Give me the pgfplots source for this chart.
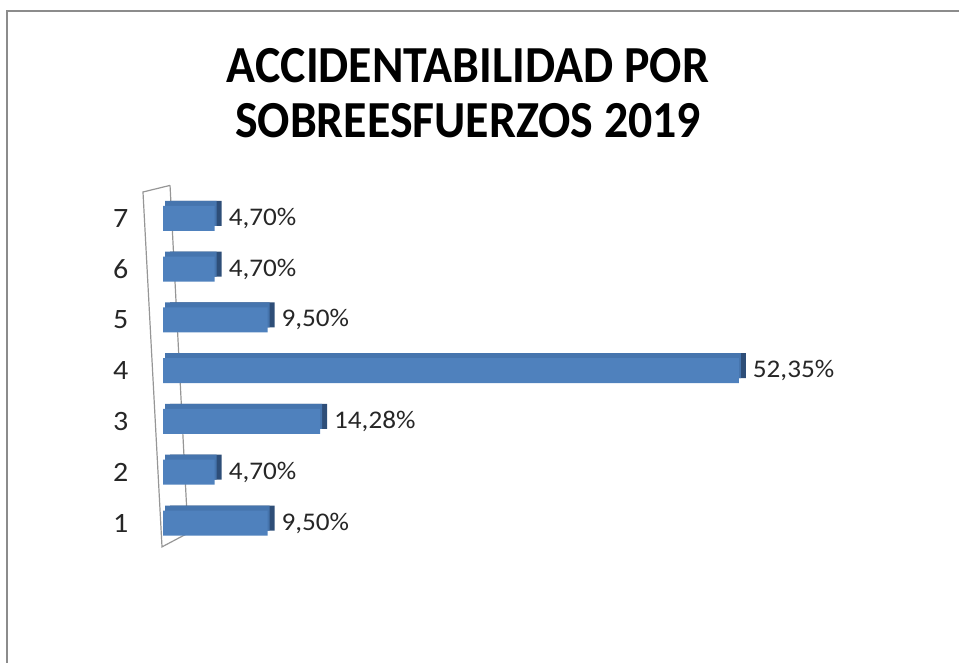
\documentclass[border=0pt]{standalone}
\usepackage{fontspec}
\setmainfont{Carlito}
\newfontfamily\titlefont{Carlito}[FakeStretch=0.92]
\newfontfamily\labelfont{Carlito}[FakeStretch=1.07]
\usepackage{pgfplots}
\pgfplotsset{compat=1.18}
\definecolor{barfront}{RGB}{79,129,189}
\definecolor{bartop}{RGB}{70,117,174}
\definecolor{barside}{RGB}{46,78,120}
\definecolor{wallgray}{RGB}{150,150,150}
\definecolor{framegray}{RGB}{140,140,140}
\begin{document}
\begin{tikzpicture}
\path[use as bounding box] (0,0) rectangle (479.5pt,331.5pt);
\draw[framegray, line width=1.2pt] (3.5pt,0) -- (3.5pt,326pt) -- (479.5pt,326pt);
\node[align=center, font=\titlefont\bfseries\fontsize{26}{27.5}\selectfont] at (234pt,285pt) {ACCIDENTABILIDAD POR\\SOBREESFUERZOS 2019};
\begin{axis}[
  at={(67.75pt,57.3pt)}, anchor=south west,
  scale only axis, width=316.25pt, height=177.7pt,
  xmin=-2.5, xmax=55, ymin=0.5, ymax=7.5,
  axis line style={draw=none},
  xtick=\empty,
  ytick={1,2,3,4,5,6,7},
  yticklabels={1,2,3,4,5,6,7},
  major tick length=0pt,
  yticklabel style={font=\labelfont\fontsize{14}{16}\selectfont, text=black!85, xshift=0pt},
  /pgf/number format/assume math mode=true,
  bar width=12.5pt,
  clip=false,
]
% wall
\draw[wallgray, line width=0.6pt] (axis cs:0.64,7.65) -- (axis cs:-1.82,7.52) -- (axis cs:-0.09,0.53) -- (axis cs:2.27,0.80);
\draw[wallgray, line width=0.6pt] (axis cs:0.64,7.65) -- (axis cs:2.27,0.80);
\addplot[xbar, fill=barside, draw=none, xshift=3.5pt, yshift=2.5pt, forget plot] coordinates {
(9.5,1) (4.7,2) (14.28,3) (52.35,4) (9.5,5) (4.7,6) (4.7,7)};
\addplot[xbar, fill=bartop, draw=none, xshift=1pt, yshift=2.5pt, forget plot] coordinates {
(9.5,1) (4.7,2) (14.28,3) (52.35,4) (9.5,5) (4.7,6) (4.7,7)};
\addplot[xbar, fill=barfront, draw=none,
  point meta=x,
  nodes near coords={\pgfmathprintnumber[fixed,zerofill,precision=2,use comma]{\pgfplotspointmeta}\%},
  every node near coord/.append style={font=\labelfont\fontsize{12.7}{15}\selectfont, text=black!85, xshift=3.5pt}
] coordinates {
(9.5,1) (4.7,2) (14.28,3) (52.35,4) (9.5,5) (4.7,6) (4.7,7)};
\end{axis}
\end{tikzpicture}
\end{document}
